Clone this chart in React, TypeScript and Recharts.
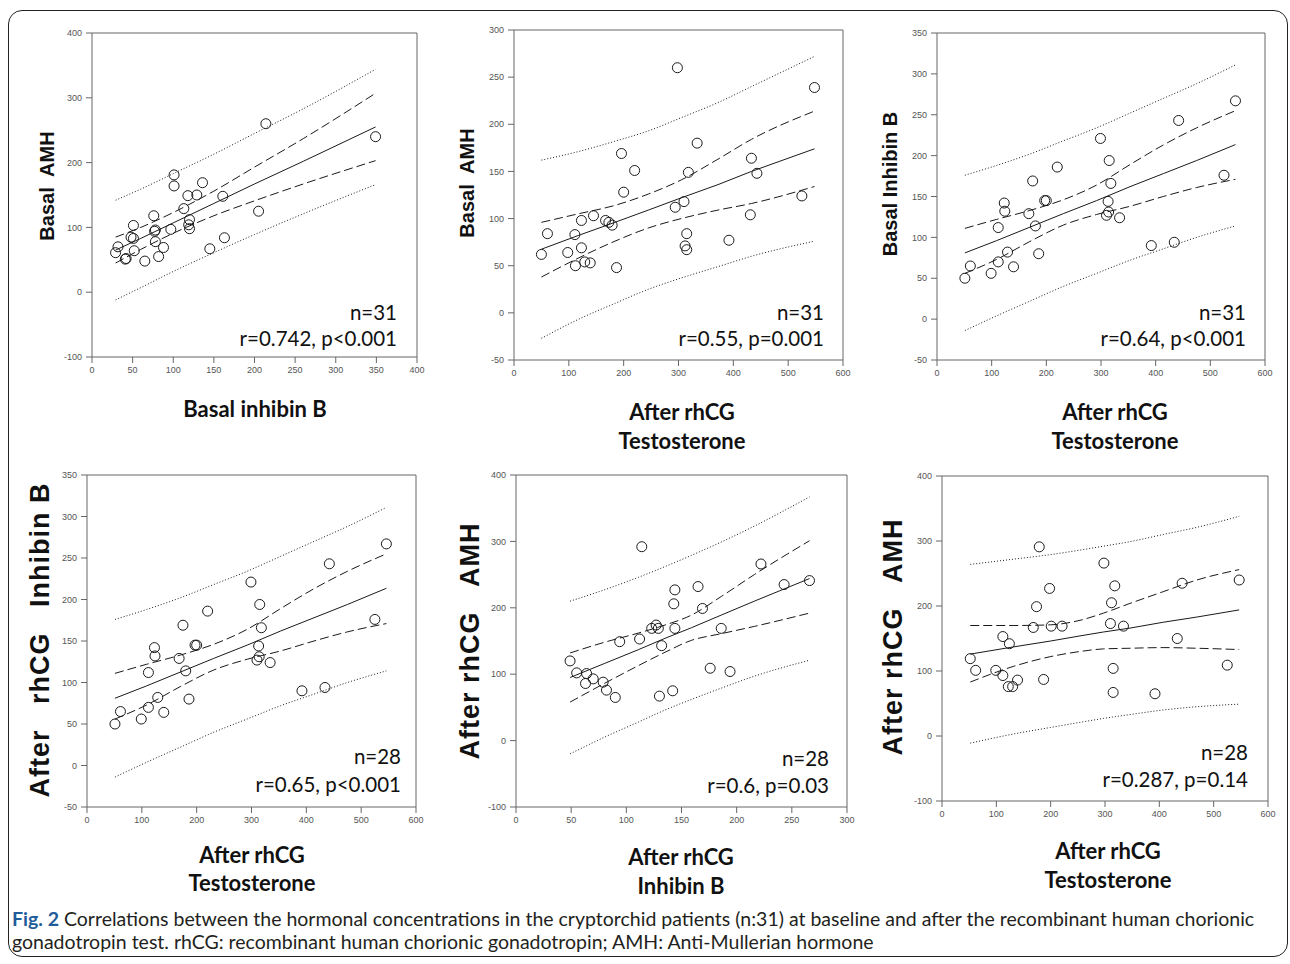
import React from 'react'
import { ComposedChart, Scatter, Line, XAxis, YAxis, ReferenceLine } from 'recharts'

// panel 1: basal inhibin B vs basal AMH
const p1X = [29, 32, 41, 42, 51, 48, 51, 52, 65, 76, 78, 77, 78, 82, 88, 97, 101, 101, 113, 118, 120, 119, 120, 129, 136, 145, 161, 163, 205, 214, 349]
const p1Y = [61, 70, 51, 52, 103, 85, 83, 64, 48, 118, 96, 94, 78, 55, 69, 97, 181, 164, 129, 149, 112, 104, 98, 150, 169, 67, 148, 84, 125, 260, 240]
const p1BandX = [29, 60, 100, 150, 200, 260, 349]
const p1Fit = [65, 83, 107, 137, 167, 202, 255]
const p1CiHi = [85, 100, 123, 156, 193, 237, 307]
const p1CiLo = [45, 66, 91, 118, 141, 167, 203]
const p1PiHi = [142, 159, 183, 213, 245, 283, 344]
const p1PiLo = [-12, 7, 32, 61, 89, 121, 166]

// panel 2: after rhCG testosterone vs basal AMH
const p2X = [50, 61, 98, 111, 112, 123, 123, 129, 139, 145, 167, 173, 179, 187, 196, 200, 220, 294, 298, 310, 315, 312, 315, 318, 334, 392, 431, 433, 443, 525, 548]
const p2Y = [62, 84, 64, 83, 50, 69, 98, 54, 53, 103, 98, 96, 93, 48, 169, 128, 151, 112, 260, 118, 84, 71, 67, 149, 180, 77, 104, 164, 148, 124, 239]
const p2BandX = [50, 117, 184, 245, 305, 372, 433, 548]
const p2Fit = [67.5, 82, 96, 109, 122, 136, 150, 174]
const p2CiHi = [96, 105, 114, 126, 141, 163, 184, 214]
const p2CiLo = [38, 58, 76, 90, 100, 109, 116, 134]
const p2PiHi = [162, 171, 182, 193, 207, 223, 240, 272]
const p2PiLo = [-27, -7, 10, 25, 37, 49, 60, 76]

// panels 3 and 4 show the same points: after rhCG testosterone vs inhibin B
const p3X = [51, 61, 99, 112, 112, 123, 124, 129, 140, 168, 175, 180, 186, 197, 200, 220, 299, 310, 313, 314, 315, 318, 334, 392, 434, 442, 525, 546]
const p3Y = [50, 65, 56, 112, 70, 142, 132, 82, 64, 129, 169, 114, 80, 145, 145, 186, 221, 127, 144, 131, 194, 166, 124, 90, 94, 243, 176, 267]
const p3BandX = [51, 109, 170, 231, 292, 353, 414, 475, 546]
const p3Fit = [81, 96, 112.5, 129, 145, 162, 178, 194, 213.5]
const p3CiHi = [111, 122, 133, 146, 164, 189, 213, 234, 255]
const p3CiLo = [56, 73, 95, 115, 128, 138, 150, 161, 171]
const p3PiHi = [176, 188, 202, 218, 234, 252, 270, 288, 311]
const p3PiLo = [-14, 4, 22, 40, 56, 72, 86, 100, 114]

// panel 5: after rhCG inhibin B vs after rhCG AMH
const p5X = [49, 55, 64, 63, 70, 79, 82, 90, 94, 112, 114, 123, 127, 129, 132, 130, 142, 143, 144, 144, 165, 169, 176, 186, 194, 222, 243, 266]
const p5Y = [120, 102, 101, 86, 93, 88, 76, 65, 149, 153, 292, 169, 174, 169, 143, 67, 75, 206, 227, 169, 232, 199, 109, 169, 104, 266, 235, 241]
const p5BandX = [49, 80, 111, 135, 159, 186, 216, 266]
const p5Fit = [95, 116, 137, 154, 170, 189, 210, 244]
const p5CiHi = [132, 148, 162, 174, 189, 217, 250, 301]
const p5CiLo = [58, 86, 113, 133, 151, 161, 172, 192]
const p5PiHi = [210, 227, 246, 262, 279, 299, 323, 367]
const p5PiLo = [-20, 5, 28, 46, 62, 79, 97, 121]

// panel 6: after rhCG testosterone vs after rhCG AMH
const p6X = [52, 62, 99, 112, 112, 122, 130, 124, 139, 168, 174, 179, 187, 198, 201, 221, 298, 310, 312, 315, 315, 318, 334, 392, 433, 442, 525, 547]
const p6Y = [119, 101, 101, 153, 93, 76, 76, 142, 86, 167, 199, 291, 87, 227, 169, 169, 266, 173, 205, 104, 67, 231, 169, 65, 150, 235, 109, 240]
const p6BandX = [52, 131, 199, 254, 297, 346, 407, 469, 547]
const p6Fit = [126, 137, 146, 154, 160, 166, 175, 183, 194]
const p6CiHi = [170, 170, 171, 178, 189, 204, 222, 240, 256]
const p6CiLo = [83, 107, 122, 130, 134, 135, 136, 135, 133]
const p6PiHi = [264, 272, 279, 286, 292, 299, 310, 321, 338]
const p6PiLo = [-11, 3, 13, 21, 27, 33, 40, 45, 49]

const ticks400 = [0, 50, 100, 150, 200, 250, 300, 350, 400]
const ticks600 = [0, 100, 200, 300, 400, 500, 600]
const ticks300 = [0, 50, 100, 150, 200, 250, 300]
const yTicksAmh = [-100, 0, 100, 200, 300, 400]
const yTicks300 = [-50, 0, 50, 100, 150, 200, 250, 300]
const yTicks350 = [-50, 0, 50, 100, 150, 200, 250, 300, 350]

const AXIS = '#666'
const INK = '#1a1a1a'
const tickStyle = { fontSize: 9, fill: '#555', fontFamily: 'Liberation Sans, Arial, sans-serif' }

const Ring = (props: any) => {
  if (props.cx == null || props.cy == null) return null
  return <circle cx={props.cx} cy={props.cy} r={5} fill="none" stroke={INK} strokeWidth={1} />
}

interface PanelProps {
  box: { L: number; R: number; T: number; B: number }
  xs: number[]
  ys: number[]
  bandX: number[]
  fit: number[]
  ciHi: number[]
  ciLo: number[]
  piHi: number[]
  piLo: number[]
  xDomain: [number, number]
  xTicks: number[]
  yDomain: [number, number]
  yTicks: number[]
}

function Panel({ box, xs, ys, bandX, fit, ciHi, ciLo, piHi, piLo, xDomain, xTicks, yDomain, yTicks }: PanelProps) {
  const points = xs.map((x, i) => ({ x, y: ys[i] }))
  const rows = bandX.map((x, i) => ({ x, fit: fit[i], ciHi: ciHi[i], ciLo: ciLo[i], piHi: piHi[i], piLo: piLo[i] }))
  const width = box.R - box.L + 50
  const height = box.B - box.T + 40

  return (
    <div style={{ position: 'absolute', left: box.L - 40, top: box.T - 10 }}>
      <ComposedChart width={width} height={height} data={rows} margin={{ top: 10, right: 10, bottom: 5, left: 10 }}>
        <XAxis
          type="number"
          dataKey="x"
          domain={xDomain}
          ticks={xTicks}
          allowDataOverflow
          height={25}
          stroke={AXIS}
          tickSize={6}
          tickMargin={4}
          tick={tickStyle}
        />
        <YAxis
          type="number"
          dataKey="y"
          domain={yDomain}
          ticks={yTicks}
          allowDataOverflow
          width={30}
          stroke={AXIS}
          tickSize={6}
          tickMargin={4}
          tick={tickStyle}
        />
        <ReferenceLine x={xDomain[1]} stroke={AXIS} />
        <ReferenceLine y={yDomain[1]} stroke={AXIS} />
        <Line type="monotone" dataKey="piHi" stroke={INK} strokeWidth={1} strokeDasharray="1 2" dot={false} isAnimationActive={false} />
        <Line type="monotone" dataKey="piLo" stroke={INK} strokeWidth={1} strokeDasharray="1 2" dot={false} isAnimationActive={false} />
        <Line type="monotone" dataKey="ciHi" stroke={INK} strokeWidth={1} strokeDasharray="9 4" dot={false} isAnimationActive={false} />
        <Line type="monotone" dataKey="ciLo" stroke={INK} strokeWidth={1} strokeDasharray="9 4" dot={false} isAnimationActive={false} />
        <Line type="linear" dataKey="fit" stroke={INK} strokeWidth={1} dot={false} isAnimationActive={false} />
        <Scatter data={points} dataKey="y" shape={Ring} isAnimationActive={false} />
      </ComposedChart>
    </div>
  )
}

// text helpers, all positioned by centre (or right edge)
const yLabelTop = { fontFamily: 'Liberation Sans, Arial, sans-serif', fontWeight: 700, fontSize: 20, color: '#111', whiteSpace: 'pre' as const, lineHeight: 1 }
const yLabelBottom = { ...yLabelTop, fontSize: 27, letterSpacing: 1 }
const xLabel = { fontFamily: 'Lato, sans-serif', fontWeight: 700, fontSize: 22, color: '#111', whiteSpace: 'pre' as const, lineHeight: 1 }
const note = { fontFamily: 'Lato, sans-serif', fontSize: 20.5, color: '#111', whiteSpace: 'pre' as const, lineHeight: 1 }

function Centered({ x, y, rotate, style, children }: any) {
  return (
    <div
      style={{
        position: 'absolute',
        left: x,
        top: y,
        transform: `translate(-50%, -50%)${rotate ? ' rotate(-90deg)' : ''}`,
        ...style,
      }}
    >
      {children}
    </div>
  )
}

function RightAligned({ x, y, style, children }: any) {
  return (
    <div style={{ position: 'absolute', left: x, top: y, transform: 'translate(-100%, -50%)', ...style }}>
      {children}
    </div>
  )
}

export default function App() {
  return (
    <div style={{ position: 'absolute', left: 0, top: 0, width: 1290, height: 964, background: '#fff', overflow: 'hidden' }}>
      <div
        style={{
          position: 'absolute',
          left: 8,
          top: 10,
          width: 1278,
          height: 945,
          border: '1.5px solid #222',
          borderRadius: 14,
        }}
      />

      <Panel box={{ L: 92, R: 417, T: 33, B: 357 }} xs={p1X} ys={p1Y} bandX={p1BandX} fit={p1Fit} ciHi={p1CiHi} ciLo={p1CiLo} piHi={p1PiHi} piLo={p1PiLo}
        xDomain={[0, 400]} xTicks={ticks400} yDomain={[-100, 400]} yTicks={yTicksAmh} />
      <Panel box={{ L: 514, R: 843, T: 30, B: 360 }} xs={p2X} ys={p2Y} bandX={p2BandX} fit={p2Fit} ciHi={p2CiHi} ciLo={p2CiLo} piHi={p2PiHi} piLo={p2PiLo}
        xDomain={[0, 600]} xTicks={ticks600} yDomain={[-50, 300]} yTicks={yTicks300} />
      <Panel box={{ L: 937, R: 1265, T: 33, B: 360 }} xs={p3X} ys={p3Y} bandX={p3BandX} fit={p3Fit} ciHi={p3CiHi} ciLo={p3CiLo} piHi={p3PiHi} piLo={p3PiLo}
        xDomain={[0, 600]} xTicks={ticks600} yDomain={[-50, 350]} yTicks={yTicks350} />
      <Panel box={{ L: 87, R: 416, T: 475, B: 807 }} xs={p3X} ys={p3Y} bandX={p3BandX} fit={p3Fit} ciHi={p3CiHi} ciLo={p3CiLo} piHi={p3PiHi} piLo={p3PiLo}
        xDomain={[0, 600]} xTicks={ticks600} yDomain={[-50, 350]} yTicks={yTicks350} />
      <Panel box={{ L: 516, R: 847, T: 475, B: 807 }} xs={p5X} ys={p5Y} bandX={p5BandX} fit={p5Fit} ciHi={p5CiHi} ciLo={p5CiLo} piHi={p5PiHi} piLo={p5PiLo}
        xDomain={[0, 300]} xTicks={ticks300} yDomain={[-100, 400]} yTicks={yTicksAmh} />
      <Panel box={{ L: 942, R: 1268, T: 476, B: 801 }} xs={p6X} ys={p6Y} bandX={p6BandX} fit={p6Fit} ciHi={p6CiHi} ciLo={p6CiLo} piHi={p6PiHi} piLo={p6PiLo}
        xDomain={[0, 600]} xTicks={ticks600} yDomain={[-100, 400]} yTicks={yTicksAmh} />

      {/* y axis titles */}
      <Centered x={47} y={186} rotate style={yLabelTop}>Basal  AMH</Centered>
      <Centered x={467} y={183} rotate style={yLabelTop}>Basal  AMH</Centered>
      <Centered x={890} y={184} rotate style={yLabelTop}>Basal Inhibin B</Centered>
      <Centered x={40} y={640} rotate style={yLabelBottom}>After   rhCG   Inhibin B</Centered>
      <Centered x={470} y={641} rotate style={yLabelBottom}>After rhCG   AMH</Centered>
      <Centered x={893} y={637} rotate style={yLabelBottom}>After rhCG   AMH</Centered>

      {/* x axis titles */}
      <Centered x={255} y={409} style={xLabel}>Basal inhibin B</Centered>
      <Centered x={682} y={412} style={xLabel}>After rhCG</Centered>
      <Centered x={682} y={441} style={xLabel}>Testosterone</Centered>
      <Centered x={1115} y={412} style={xLabel}>After rhCG</Centered>
      <Centered x={1115} y={441} style={xLabel}>Testosterone</Centered>
      <Centered x={252} y={855} style={xLabel}>After rhCG</Centered>
      <Centered x={252} y={883} style={xLabel}>Testosterone</Centered>
      <Centered x={681} y={857} style={xLabel}>After rhCG</Centered>
      <Centered x={681} y={886} style={xLabel}>Inhibin B</Centered>
      <Centered x={1108} y={851} style={xLabel}>After rhCG</Centered>
      <Centered x={1108} y={880} style={xLabel}>Testosterone</Centered>

      {/* statistics */}
      <RightAligned x={397} y={312} style={note}>n=31</RightAligned>
      <RightAligned x={397} y={338} style={note}>r=0.742, p&lt;0.001</RightAligned>
      <RightAligned x={824} y={312} style={note}>n=31</RightAligned>
      <RightAligned x={824} y={338} style={note}>r=0.55, p=0.001</RightAligned>
      <RightAligned x={1246} y={312} style={note}>n=31</RightAligned>
      <RightAligned x={1246} y={338} style={note}>r=0.64, p&lt;0.001</RightAligned>
      <RightAligned x={401} y={756} style={note}>n=28</RightAligned>
      <RightAligned x={401} y={784} style={note}>r=0.65, p&lt;0.001</RightAligned>
      <RightAligned x={829} y={758} style={note}>n=28</RightAligned>
      <RightAligned x={829} y={785} style={note}>r=0.6, p=0.03</RightAligned>
      <RightAligned x={1248} y={752} style={note}>n=28</RightAligned>
      <RightAligned x={1248} y={779} style={note}>r=0.287, p=0.14</RightAligned>

      {/* caption */}
      <div style={{ position: 'absolute', left: 12, top: 907, fontFamily: 'Lato, sans-serif', fontSize: 19.5, lineHeight: '23px', color: '#231f20', whiteSpace: 'nowrap' }}>
        <div><b style={{ color: '#1f5c99' }}>Fig. 2</b> Correlations between the hormonal concentrations in the cryptorchid patients (n:31) at baseline and after the recombinant human chorionic</div>
        <div>gonadotropin test. rhCG: recombinant human chorionic gonadotropin; AMH: Anti-Mullerian hormone</div>
      </div>
    </div>
  )
}
